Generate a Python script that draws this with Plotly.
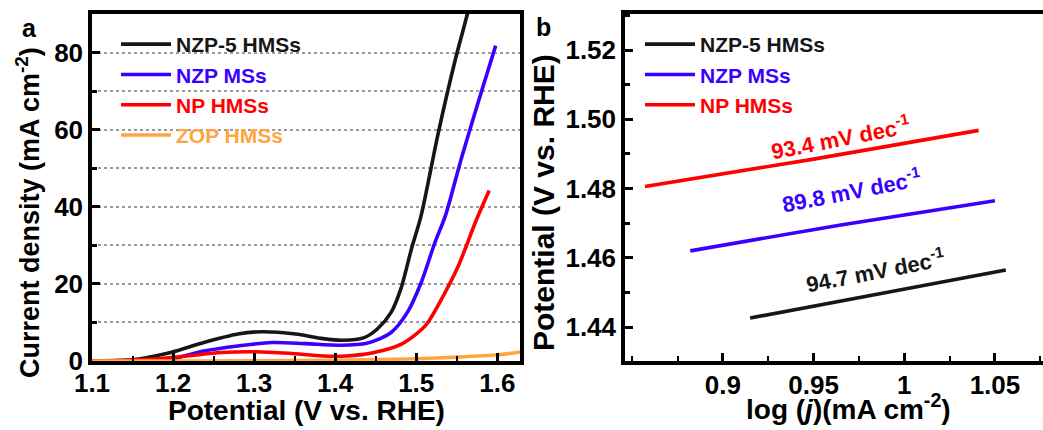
import plotly.graph_objects as go

# ---------------- data: panel a (LSV) ----------------
V_nzp5 = [1.10, 1.15, 1.197, 1.238, 1.28, 1.31, 1.351, 1.385, 1.41, 1.435, 1.452, 1.469, 1.481, 1.494, 1.506, 1.527, 1.548, 1.563, 1.568]
J_nzp5 = [0.0, 0.3, 2.2, 4.8, 7.0, 7.6, 7.0, 5.8, 5.4, 6.0, 8.3, 12.6, 18.7, 29.0, 37.7, 59.0, 78.0, 90.0, 95.0]

V_nzp = [1.10, 1.15, 1.188, 1.238, 1.28, 1.322, 1.364, 1.405, 1.439, 1.469, 1.489, 1.506, 1.523, 1.536, 1.556, 1.577, 1.598]
J_nzp = [0.0, 0.0, 0.1, 2.6, 3.9, 4.8, 4.5, 4.1, 4.6, 7.4, 12.6, 20.3, 30.7, 37.7, 52.8, 67.5, 81.8]

V_np = [1.10, 1.175, 1.217, 1.259, 1.301, 1.343, 1.385, 1.414, 1.448, 1.481, 1.511, 1.531, 1.552, 1.573, 1.59]
J_np = [0.0, 0.5, 1.3, 2.2, 2.4, 2.0, 1.3, 1.3, 2.2, 4.3, 9.1, 16.0, 24.7, 36.0, 44.2]

V_zop = [1.10, 1.20, 1.30, 1.40, 1.45, 1.50, 1.55, 1.60, 1.63]
J_zop = [0.0, 0.0, 0.05, 0.2, 0.35, 0.6, 1.0, 1.6, 2.4]

# ---------------- data: panel b (Tafel) ----------------
logj_nzp5 = [0.915, 0.985, 1.056]
E_nzp5 = [1.4426, 1.4495, 1.4565]
logj_nzp = [0.882, 0.965, 1.05]
E_nzp = [1.462, 1.4695, 1.4765]
logj_np = [0.857, 0.95, 1.041]
E_np = [1.4806, 1.4885, 1.4968]

names = ["NZP-5 HMSs", "NZP MSs", "NP HMSs", "ZOP HMSs"]
slopes = ["93.4 mV dec<sup>-1</sup>", "89.8 mV dec<sup>-1</sup>", "94.7 mV dec<sup>-1</sup>"]

C_BLACK = "#161616"
C_BLUE = "#3A00FF"
C_RED = "#FF0000"
C_ORANGE = "#FFA53F"

FONT = "Liberation Sans, Arial, sans-serif"
W, H = 1043, 430

def px(x):
    return x / W

def py(y):
    return 1 - y / H

fig = go.Figure()

def leg_name(name, color):
    return f"<span style='color:{color}'>{name}</span>"

LW = 3.6
for V, J, n, c in [(V_nzp5, J_nzp5, names[0], C_BLACK), (V_nzp, J_nzp, names[1], C_BLUE),
                   (V_np, J_np, names[2], C_RED), (V_zop, J_zop, names[3], C_ORANGE)]:
    fig.add_trace(go.Scatter(x=V, y=J, mode="lines", name=leg_name(n, c),
                             line=dict(color=c, width=LW, shape="spline", smoothing=0.8),
                             xaxis="x", yaxis="y", legend="legend"))

for X, Y, n, c in [(logj_nzp5, E_nzp5, names[0], C_BLACK), (logj_nzp, E_nzp, names[1], C_BLUE),
                   (logj_np, E_np, names[2], C_RED)]:
    fig.add_trace(go.Scatter(x=X, y=Y, mode="lines", name=leg_name(n, c),
                             line=dict(color=c, width=LW, shape="spline", smoothing=0.6),
                             xaxis="x2", yaxis="y2", legend="legend2"))

xd1 = [px(92), px(520)]
xd2 = [px(625), 1.0]
yd = [py(361), py(14)]

tickfont = dict(family=FONT, size=26, color="black", weight="bold")
axline = dict(showline=True, linecolor="black", linewidth=3.5, automargin=False)

fig.update_layout(
    width=W, height=H,
    margin=dict(l=0, r=0, t=0, b=0, autoexpand=False),
    paper_bgcolor="white", plot_bgcolor="white",
    font=dict(family=FONT, color="black", weight="bold"),
    showlegend=True,
    xaxis=dict(domain=xd1, range=[1.1, 1.628], anchor="y", tickvals=[1.1, 1.2, 1.3, 1.4, 1.5, 1.6],
               ticktext=["1.1", "1.2", "1.3", "1.4", "1.5", "1.6"],
               ticks="inside", ticklen=8, tickwidth=2.5, tickcolor="black", mirror=True,
               ticklabelstandoff=-4,
               minor=dict(dtick=0.05, tick0=1.1, ticks="inside", ticklen=5, tickwidth=2, tickcolor="black"),
               showgrid=False, zeroline=False, tickfont=tickfont, **axline),
    yaxis=dict(domain=yd, range=[0, 90], anchor="x", tickvals=[0, 20, 40, 60, 80],
               ticks="inside", ticklen=8, tickwidth=2.5, tickcolor="black", mirror=True,
               showgrid=True, griddash="dot", gridcolor="#9a9a9a", gridwidth=1.8,
               minor=dict(dtick=10, showgrid=True, griddash="dot", gridcolor="#9a9a9a", gridwidth=1.8,
                          ticks="inside", ticklen=5, tickcolor="black"),
               zeroline=False, tickfont=tickfont, **axline),
    xaxis2=dict(domain=xd2, range=[0.846, 1.0765], anchor="y2", tickvals=[0.9, 0.95, 1.0, 1.05],
                ticktext=["0.9", "0.95", "1", "1.05"],
                ticks="inside", ticklen=8, tickwidth=2.5, tickcolor="black", mirror=True,
                ticklabelstandoff=-2,
                minor=dict(dtick=0.025, tick0=0.9, ticks="inside", ticklen=5, tickwidth=2, tickcolor="black"),
                showgrid=False, zeroline=False, tickfont=tickfont, **axline),
    yaxis2=dict(domain=yd, range=[1.4302, 1.5304], anchor="x2", tickvals=[1.44, 1.46, 1.48, 1.50, 1.52],
                ticktext=["1.44", "1.46", "1.48", "1.50", "1.52"],
                ticks="inside", ticklen=8, tickwidth=2.5, tickcolor="black", mirror=False,
                minor=dict(dtick=0.01, ticks="inside", ticklen=5, tickcolor="black"),
                showgrid=False, zeroline=False, tickfont=tickfont, **axline),
    legend=dict(x=px(116), y=py(24), xanchor="left", yanchor="top", bgcolor="rgba(0,0,0,0)",
                font=dict(family=FONT, size=21, weight="bold"), itemwidth=50, tracegroupgap=0),
    legend2=dict(x=px(640), y=py(24), xanchor="left", yanchor="top", bgcolor="rgba(0,0,0,0)",
                 font=dict(family=FONT, size=21, weight="bold"), itemwidth=50, tracegroupgap=0),
)

title_font = dict(family=FONT, size=28, color="black", weight="bold")
common = dict(xref="paper", yref="paper", showarrow=False, xanchor="center", yanchor="middle")
ann = [
    dict(text="Potential (V vs. RHE)", x=px(306), y=py(410), font=title_font, **common),
    dict(text="log (<i>j</i>)(mA cm<sup>-2</sup>)", x=px(848), y=py(407), font=title_font, **common),
    dict(text="Current density (mA cm<sup>-2</sup>)", x=px(28), y=py(213), textangle=-90,
         font=dict(family=FONT, size=27, color="black", weight="bold"), **common),
    dict(text="Potential (V vs. RHE)", x=px(543), y=py(203), textangle=-90,
         font=dict(family=FONT, size=30, color="black", weight="bold"), **common),
    dict(text="a", x=px(29), y=py(28), font=dict(family=FONT, size=25, color="black", weight="bold"), **common),
    dict(text="b", x=px(543), y=py(27), font=dict(family=FONT, size=25, color="black", weight="bold"), **common),
    dict(text=slopes[0], x=0.965, y=1.4949, xref="x2", yref="y2", showarrow=False, textangle=-11,
         font=dict(family=FONT, size=22, color=C_RED, weight="bold")),
    dict(text=slopes[1], x=0.971, y=1.4795, xref="x2", yref="y2", showarrow=False, textangle=-11,
         font=dict(family=FONT, size=22, color=C_BLUE, weight="bold")),
    dict(text=slopes[2], x=0.984, y=1.4564, xref="x2", yref="y2", showarrow=False, textangle=-11,
         font=dict(family=FONT, size=22, color=C_BLACK, weight="bold")),
]
fig.update_layout(annotations=ann)

fig.write_html("out.html", config={"displayModeBar": False},
               post_script="document.body.style.margin='0';document.body.style.overflow='hidden';")
